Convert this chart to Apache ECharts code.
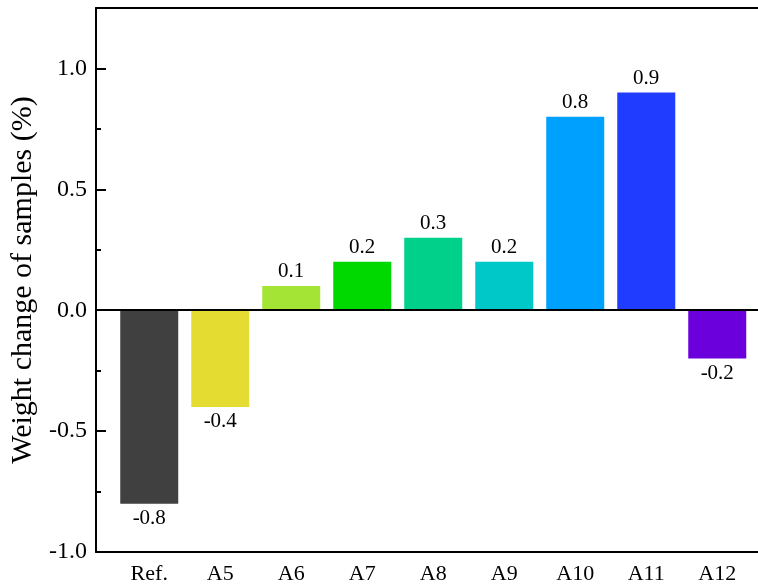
<!DOCTYPE html>
<html>
<head>
<meta charset="utf-8">
<script src="https://cdn.jsdelivr.net/npm/echarts@6/dist/echarts.min.js"></script>
<style>html,body{margin:0;padding:0;background:#fff;overflow:hidden;width:758px;height:585px;}#c{width:770px;height:585px;}</style>
</head>
<body>
<div id="c"></div>
<script>
const categories = ['Ref.', 'A5', 'A6', 'A7', 'A8', 'A9', 'A10', 'A11', 'A12'];
const values = [-0.8, -0.4, 0.1, 0.2, 0.3, 0.2, 0.8, 0.9, -0.2];
const colors = ['#404040', '#e5dc32', '#a3e434', '#00d900', '#00d08a', '#00c8c8', '#00a0ff', '#1f3cff', '#6c00dc'];
const yMajorTicks = [-1.0, -0.5, 0.0, 0.5, 1.0];
const yMinorTicks = [-0.75, -0.25, 0.25, 0.75];
const positions = categories.map((c, i) => i + 1);

const FONT = 'Liberation Serif';
const X_MIN = 0.25, X_MAX = 9.743;
const chart = echarts.init(document.getElementById('c'), null, {renderer: 'canvas'});
chart.setOption({
  animation: false,
  backgroundColor: '#fff',
  grid: {left: 96, right: 0, top: 8, bottom: 32},
  xAxis: [{
    type: 'value', min: X_MIN, max: X_MAX,
    axisLine: {show: true, onZero: false, lineStyle: {color: '#000', width: 2}},
    axisTick: {show: false},
    splitLine: {show: false},
    axisLabel: {
      customValues: positions,
      formatter: v => categories[Math.round(v) - 1] || '',
      fontFamily: FONT, fontSize: 22, color: '#000', margin: 11
    }
  }, {
    type: 'value', min: X_MIN, max: X_MAX, position: 'top',
    axisLine: {show: true, onZero: false, lineStyle: {color: '#000', width: 2}},
    axisTick: {show: false},
    axisLabel: {show: false},
    splitLine: {show: false}
  }],
  yAxis: [{
    type: 'value', min: -1.0, max: 1.25,
    name: 'Weight change of samples (%)',
    nameLocation: 'middle', nameGap: 54,
    nameTextStyle: {fontFamily: FONT, fontSize: 30, color: '#000'},
    axisLine: {show: true, lineStyle: {color: '#000', width: 2}},
    axisTick: {show: true, inside: true, length: 10, customValues: yMajorTicks, lineStyle: {color: '#000', width: 2}},
    axisLabel: {customValues: yMajorTicks, formatter: v => v.toFixed(1), fontFamily: FONT, fontSize: 24, color: '#000', margin: 9},
    splitLine: {show: false}
  }, {
    type: 'value', min: -1.0, max: 1.25, position: 'left',
    axisLine: {show: false},
    axisTick: {show: true, inside: true, length: 5, customValues: yMinorTicks, lineStyle: {color: '#000', width: 2}},
    axisLabel: {show: false},
    splitLine: {show: false}
  }],
  series: [{
    type: 'bar',
    xAxisIndex: 0, yAxisIndex: 0,
    barWidth: 58,
    data: values.map((v, i) => ({
      value: [positions[i], v],
      itemStyle: {color: colors[i]},
      label: {position: v >= 0 ? 'top' : 'bottom'}
    })),
    label: {
      show: true, distance: 4,
      formatter: p => p.value[1].toFixed(1),
      fontFamily: FONT, fontSize: 21, color: '#000'
    },
    markLine: {
      silent: true, symbol: 'none', label: {show: false},
      lineStyle: {color: '#000', width: 2, type: 'solid'},
      data: [{yAxis: 0}]
    }
  }]
});
</script>
</body>
</html>
